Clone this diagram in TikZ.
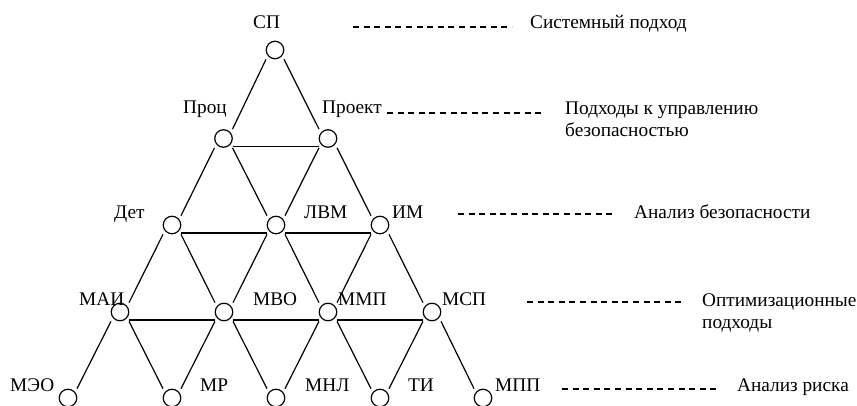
\documentclass[tikz,border=0pt]{standalone}
\usepackage{fontspec}
\setmainfont{Liberation Serif}
\newfontfamily\labelfont{Liberation Serif}
\begin{document}
\begin{tikzpicture}[x=1pt,y=-1pt,
  vtx/.style={circle,draw,line width=1.2pt,minimum size=17.5pt,inner sep=0pt},
  lbl/.style={anchor=base west,inner sep=0pt,font=\labelfont\fontsize{19.3}{22}\selectfont},
  note/.style={lbl,align=left},
  link/.style={line width=1.2pt},
  guide/.style={line width=1.1pt,dash pattern=on 6pt off 4.6pt}]
\useasboundingbox (0,0) rectangle (857,406);

% vertices of the triangular lattice
\node[vtx] (sp)   at (275,50) {};
\node[vtx] (proc) at (223.5,138.5) {};
\node[vtx] (proj) at (328,138.5) {};
\node[vtx] (det)  at (172,225) {};
\node[vtx] (lvm)  at (276,225) {};
\node[vtx] (im)   at (380,225) {};
\node[vtx] (mai)  at (120,312) {};
\node[vtx] (mvo)  at (224,312) {};
\node[vtx] (mmp)  at (328,312) {};
\node[vtx] (msp)  at (432,312) {};
\node[vtx] (meo)  at (68,398) {};
\node[vtx] (mr)   at (172,398) {};
\node[vtx] (mnl)  at (276,398) {};
\node[vtx] (ti)   at (380,398) {};
\node[vtx] (mpp)  at (483,398) {};

% edges going down to the left
\foreach \a/\b in {sp/proc,proc/det,proj/lvm,det/mai,lvm/mvo,im/mmp,mai/meo,mvo/mr,mmp/mnl,msp/ti}
  \draw[link] ([xshift=-9pt]\a.south) -- ([xshift=9pt]\b.north);
% edges going down to the right
\foreach \a/\b in {sp/proj,proc/lvm,proj/im,det/mvo,lvm/mmp,im/msp,mai/mr,mvo/mnl,mmp/ti,msp/mpp}
  \draw[link] ([xshift=9pt]\a.south) -- ([xshift=-9pt]\b.north);
% horizontal edges
\foreach \a/\b in {proc/proj,det/lvm,lvm/im,mai/mvo,mvo/mmp,mmp/msp}
  \draw[link] ([xshift=9pt,yshift=-8pt]\a.center) -- ([xshift=-9pt,yshift=-8pt]\b.center);

% vertex labels
\node[lbl] (tsp)   at (253,29)  {СП};
\node[lbl] (tproc) at (183,114) {Проц};
\node[lbl] (tproj) at (322,114) {Проект};
\node[lbl] (tdet)  at (114,219) {Дет};
\node[lbl] (tlvm)  at (304,219) {ЛВМ};
\node[lbl] (tim)   at (392,219) {ИМ};
\node[lbl] (tmai)  at (79,305.5)  {МАИ};
\node[lbl] (tmvo)  at (253,305.5) {МВО};
\node[lbl] (tmmp)  at (338,305.5) {ММП};
\node[lbl] (tmsp)  at (442,305.5) {МСП};
\node[lbl] (tmeo)  at (10,391)  {МЭО};
\node[lbl] (tmr)   at (200,391) {МР};
\node[lbl] (tmnl)  at (305,391) {МНЛ};
\node[lbl] (tti)   at (408,391) {ТИ};
\node[lbl] (tmpp)  at (495,391) {МПП};

% level descriptions
\node[note] (n1) at (530,29)  {Системный подход};
\node[note] (n2) at (565,137) {Подходы к управлению\\безопасностью};
\node[note] (n3) at (634,219) {Анализ безопасности};
\node[note] (n4) at (702,328) {Оптимизационные\\подходы};
\node[note] (n5) at (737,391) {Анализ риска};

% dashed leaders
\coordinate (g1a) at (353,27);  \coordinate (g1b) at (512,27);
\coordinate (g2a) at (387,113); \coordinate (g2b) at (543,113);
\coordinate (g3a) at (458,214); \coordinate (g3b) at (613,214);
\coordinate (g4a) at (527,302); \coordinate (g4b) at (681,302);
\coordinate (g5a) at (562,389); \coordinate (g5b) at (717,389);
\foreach \i in {1,...,5}
  \draw[guide] (g\i a) -- (g\i b);
\end{tikzpicture}
\end{document}
